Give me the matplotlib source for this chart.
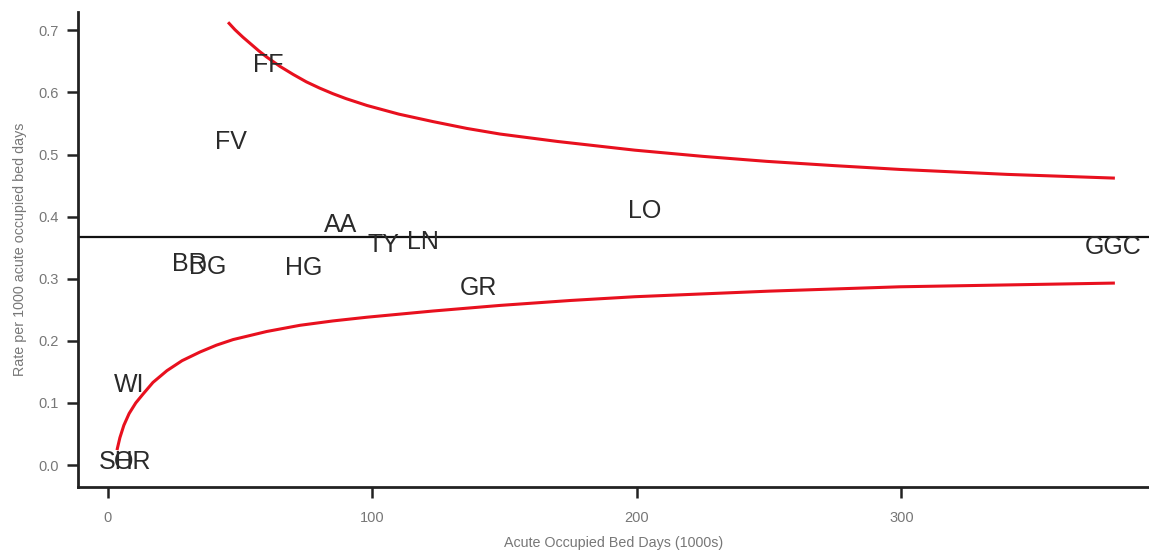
import matplotlib
matplotlib.use("Agg")
import matplotlib.pyplot as plt

# Board labels: x = acute occupied bed days (1000s), y = rate per 1000 bed days
boards = ["FF", "FV", "AA", "TY", "LN", "LO", "GGC", "BR", "DG", "HG", "GR", "WI", "SH", "OR"]
bed_days = [60.5, 46.5, 88.0, 104.0, 119.1, 203.0, 380.0, 30.6, 37.8, 74.1, 139.9, 7.9, 3.0, 9.5]
rates = [0.644, 0.520, 0.386, 0.355, 0.359, 0.409, 0.351, 0.324, 0.319, 0.317, 0.285, 0.129, 0.005, 0.005]

centre_rate = 0.367

# Control limits
upper_x = [45.4, 48, 51, 54, 57, 60, 65, 70, 75, 80, 85, 90, 97.9, 110, 122.9, 135.7,
           148.2, 170, 199.2, 225, 249, 275, 299.4, 340, 380.7]
upper_y = [0.713, 0.701, 0.689, 0.678, 0.667, 0.657, 0.642, 0.629, 0.617, 0.607, 0.598,
           0.590, 0.579, 0.565, 0.553, 0.542, 0.533, 0.521, 0.507, 0.497, 0.489, 0.482,
           0.476, 0.468, 0.462]
lower_x = [3.4, 4.5, 6.0, 8.0, 10.5, 13.2, 17, 22.3, 28, 34.8, 41, 47.3, 60, 72.6, 85,
           97.9, 122.9, 148.2, 175, 199.2, 250, 299.4, 340, 380.7]
lower_y = [0.024, 0.044, 0.064, 0.083, 0.100, 0.114, 0.133, 0.152, 0.168, 0.182, 0.193,
           0.202, 0.215, 0.225, 0.232, 0.238, 0.248, 0.257, 0.265, 0.271, 0.280, 0.287,
           0.290, 0.293]

x_ticks = [0, 100, 200, 300]
y_ticks = [0.0, 0.1, 0.2, 0.3, 0.4, 0.5, 0.6, 0.7]

W, H = 1149, 551
fig = plt.figure(figsize=(W / 100, H / 100), dpi=100)
ax = fig.add_axes([78 / W, (H - 487) / H, (W - 78) / W, (487 - 12) / H])
ax.set_xlim(-11.34, 393.6)
ax.set_ylim(-0.0354, 0.7295)

ax.axhline(centre_rate, color="#111111", lw=1.6, zorder=2)
ax.plot(upper_x, upper_y, color="#e8101e", lw=2.2, solid_capstyle="butt",
        solid_joinstyle="round", zorder=3)
ax.plot(lower_x, lower_y, color="#e8101e", lw=2.2, solid_capstyle="butt",
        solid_joinstyle="round", zorder=3)

for lab, xv, yv in zip(boards, bed_days, rates):
    ax.text(xv, yv, lab, ha="center", va="center", fontsize=18,
            family="Liberation Sans", color="#2a2a2a", zorder=4)

for s in ["top", "right"]:
    ax.spines[s].set_visible(False)
for s in ["left", "bottom"]:
    ax.spines[s].set_linewidth(2.0)
    ax.spines[s].set_color("#222222")

ax.set_xticks(x_ticks)
ax.set_xticklabels([str(v) for v in x_ticks])
ax.set_yticks(y_ticks)
ax.set_yticklabels([f"{v:.1f}" for v in y_ticks])
ax.tick_params(axis="both", length=8, width=1.8, color="#222222",
               labelsize=10.5, labelcolor="#777777")
ax.tick_params(axis="x", pad=9)
ax.tick_params(axis="y", pad=6)
for lbl in ax.get_xticklabels() + ax.get_yticklabels():
    lbl.set_family("Liberation Sans")

ax.set_xlabel("Acute Occupied Bed Days (1000s)", fontsize=10.3, color="#777777",
              family="Liberation Sans", labelpad=8)
ax.set_ylabel("Rate per 1000 acute occupied bed days", fontsize=10.3, color="#777777",
              family="Liberation Sans", labelpad=8)

fig.savefig("out.png", dpi=100)
